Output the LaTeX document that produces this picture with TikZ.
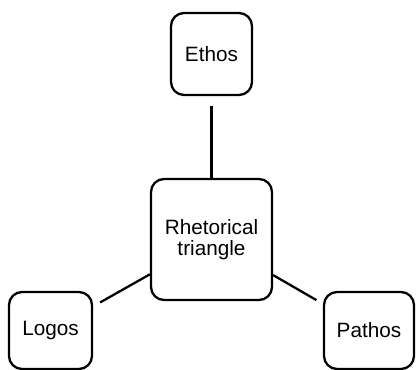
\documentclass[tikz,border=0pt]{standalone}
\usepackage{fontspec}
\setmainfont{Liberation Sans}
\usepackage{tikz}
\usetikzlibrary{positioning}
\tikzstyle{pbox} = [rectangle, draw, line width=1.3pt, rounded corners=0.26cm,
text centered, align=center, font=\fontsize{11.8}{12}\selectfont, inner sep=0pt]
\tikzstyle{link} = [line width=1.3pt]

\begin{document}
\begin{tikzpicture}
    \useasboundingbox (0,0) rectangle (8.32,7.4);
	\node (rt) [pbox, minimum width=2.42cm, minimum height=2.42cm] at (4.23,2.61) {Rhetorical\\triangle};
	\node (ethos) [pbox, minimum width=1.62cm, minimum height=1.64cm] at (4.23,6.32) {Ethos};
	\node (logos) [pbox, minimum width=1.66cm, minimum height=1.54cm] at (1.01,0.79) {Logos};
	\node (pathos) [pbox, minimum width=1.80cm, minimum height=1.54cm] at (7.38,0.79) {Pathos};

	\draw [link, shorten <=0.2cm] (ethos) -- (rt);
	\draw [link, shorten <=0.16cm] (logos) -- (rt);
	\draw [link, shorten <=0.15cm] (pathos) -- (rt);
\end{tikzpicture}
\end{document}
